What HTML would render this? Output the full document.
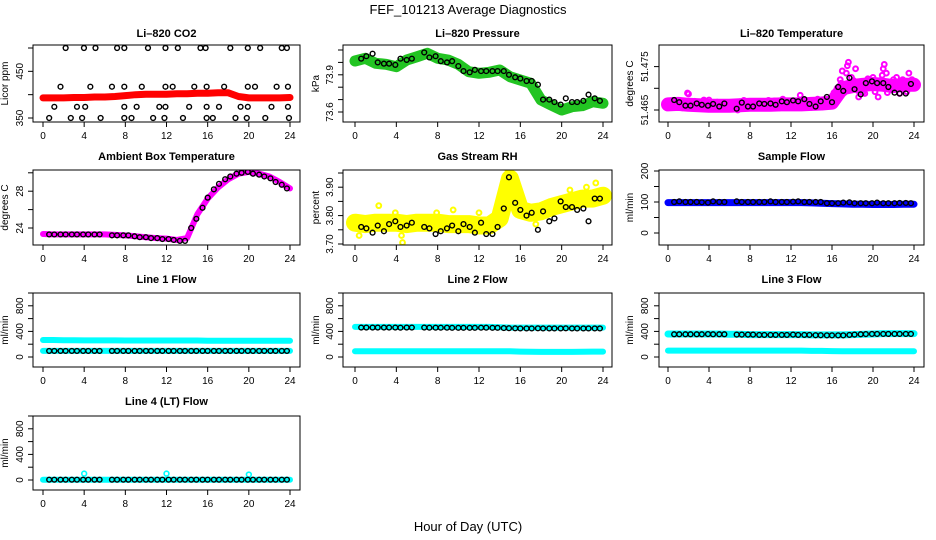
<!DOCTYPE html>
<html><head><meta charset="utf-8"><style>
html,body{margin:0;padding:0;background:#fff;}
svg{display:block;font-family:"Liberation Sans",Arial,sans-serif;}
</style></head><body>
<svg id="chart" width="936" height="540" viewBox="0 0 936 540">
<text x="468" y="14" text-anchor="middle" font-size="13">FEF_101213  Average Diagnostics</text>
<text x="468" y="531" text-anchor="middle" font-size="13">Hour of Day (UTC)</text>
</svg>
<script>
// ---- data ----
const xTicks = [0,4,8,12,16,20,24];
const blackTimes = [0.6,1.1,1.7,2.2,2.8,3.3,3.9,4.4,5.0,5.5,6.7,7.2,7.8,8.3,8.9,9.4,10.0,10.5,11.1,11.6,12.2,12.7,13.3,13.8,14.4,14.9,15.5,16.0,16.6,17.1,17.7,18.2,18.8,19.3,19.9,20.4,21.0,21.5,22.1,22.6,23.2,23.7];

const co2Band = [393,393,393,394,394,395,395,396,398,400,401,401,401,402,402,403,403,404,404,396,393,393,393,393,394];
const co2Times = [2.2,3.98,5.1,7.2,7.9,10.2,11.9,13.1,15.3,15.8,18.2,19.9,21.1,23.2,23.7,1.7,4.6,6.7,7.9,9.6,11.9,12.6,14.7,15.9,17.6,19.9,20.6,22.7,23.8,1.1,3.3,4.1,7.9,9.1,11.3,11.9,14.2,15.9,17.1,19.2,19.9,22.2,23.8,0.6,2.7,3.8,5.6,7.9,8.6,10.7,11.8,13.6,15.9,16.5,18.7,19.8,21.6,23.9];
const co2Values = [500,500,500,500,500,500,500,500,500,500,500,500,500,500,500,417,417,417,417,417,417,417,417,417,417,417,417,417,417,374,374,374,374,374,374,374,374,374,374,374,374,374,374,350,350,350,350,350,350,350,350,350,350,350,350,350,350,350];

const presBand = [74.011,74.033,73.993,73.985,73.965,74.019,74.046,74.073,74.033,74.019,73.985,73.925,73.912,73.920,73.939,73.885,73.858,73.832,73.697,73.656,73.616,73.643,73.651,73.683,73.670];
const presBlack = [74.03,74.05,74.07,74.00,73.99,73.99,73.98,74.03,74.02,74.03,74.08,74.04,74.05,74.01,74.00,74.01,73.97,73.93,73.92,73.94,73.93,73.93,73.93,73.93,73.93,73.90,73.88,73.87,73.85,73.85,73.82,73.70,73.70,73.68,73.66,73.71,73.68,73.68,73.69,73.74,73.71,73.69];

const tempBand = [51.4663,51.4664,51.4662,51.4661,51.4660,51.4660,51.4660,51.4661,51.4662,51.4662,51.4662,51.4663,51.4663,51.4663,51.4664,51.4665,51.4667,51.4700,51.4705,51.4708,51.4710,51.4708,51.4705,51.4708,51.4708];
const tempOutT = [0.5,1.9,2.0,3.5,4.0,6.8,7.4,9.8,11.2,12.9,14.6,16.5,16.8,17.0,17.4,17.6,17.9,18.3,18.6,19.0,19.5,20.0,20.5,21.0,21.1,21.3,21.8,22.3,22.9,23.5,
 0.8,1.4,2.6,3.1,4.8,5.3,6.1,7.0,8.1,8.6,9.2,10.4,10.9,11.6,12.3,13.4,14.0,15.0,15.4,16.2,16.9,17.2,17.8,18.1,18.5,18.9,19.2,19.7,20.2,20.7,21.4,21.7,22.0,22.6,23.0,23.3,23.8,17.5,19.4,20.9];
const tempOutV = [51.4672,51.4689,51.4687,51.4673,51.4673,51.4650,51.4672,51.4672,51.4675,51.4684,51.4675,51.4700,51.4720,51.4740,51.4735,51.4760,51.4725,51.4745,51.4680,51.4690,51.4722,51.4725,51.4680,51.4745,51.4755,51.4735,51.4700,51.4725,51.4720,51.4735,
 51.4668,51.4655,51.4670,51.4656,51.4668,51.4654,51.4667,51.4669,51.4656,51.4668,51.4657,51.4671,51.4655,51.4669,51.4657,51.4667,51.4656,51.4670,51.4658,51.4690,51.4712,51.4690,51.4700,51.4718,51.4695,51.4710,51.4688,51.4715,51.4692,51.4718,51.4690,51.4712,51.4720,51.4688,51.4712,51.4692,51.4720,51.4752,51.4705,51.4730];
const tempBlack = [51.4673,51.4668,51.4660,51.4660,51.4665,51.4662,51.4660,51.4664,51.4658,51.4665,51.4653,51.4667,51.4658,51.4658,51.4665,51.4664,51.4665,51.4662,51.4670,51.4668,51.4672,51.4670,51.4675,51.4664,51.4658,51.4670,51.4680,51.4668,51.4703,51.4694,51.4724,51.4698,51.4686,51.4712,51.4716,51.4712,51.4712,51.4703,51.4690,51.4688,51.4688,51.4710];

const ambBand = [23.35,23.3,23.3,23.3,23.3,23.3,23.3,23.25,23.2,23.1,23.0,22.9,22.85,22.7,22.9,25.5,27.2,28.4,29.3,29.9,30.1,29.9,29.6,29.0,28.3];
const ambBlack = [23.3,23.3,23.3,23.3,23.3,23.3,23.3,23.3,23.3,23.3,23.2,23.2,23.2,23.2,23.1,23.0,23.0,22.9,22.9,22.8,22.8,22.7,22.6,22.6,24.0,25.0,26.2,27.3,28.2,28.8,29.3,29.6,29.9,30.0,30.1,29.9,29.8,29.6,29.4,29.0,28.7,28.3];

const rhBand = [3.775,3.770,3.775,3.775,3.775,3.770,3.775,3.775,3.775,3.770,3.770,3.770,3.765,3.765,3.790,3.930,3.820,3.810,3.815,3.830,3.840,3.850,3.860,3.860,3.870];
const rhOutT = [0.4,2.3,3.9,4.5,4.6,7.9,9.5,12.0,14.6,14.8,15.0,15.2,17.5,20.8,22.4,23.3,23.6];
const rhOutV = [3.730,3.835,3.810,3.730,3.705,3.810,3.820,3.810,3.920,3.960,3.950,3.920,3.770,3.890,3.900,3.915,3.880];
const rhBlack = [3.760,3.755,3.740,3.765,3.745,3.770,3.780,3.760,3.765,3.775,3.760,3.755,3.735,3.745,3.755,3.765,3.745,3.770,3.760,3.740,3.775,3.735,3.735,3.760,3.825,3.935,3.845,3.820,3.800,3.810,3.750,3.815,3.780,3.790,3.850,3.830,3.830,3.820,3.825,3.780,3.860,3.860];

const sampBand = [98,98,98,98,98,98,98,98,98,98,98,98,98,98,97,96,95,94,93,93,92,92,92,93,93];
const sampBlack = [100,102,100,100,100,99,98,102,100,100,102,100,100,100,100,100,102,100,100,100,101,102,100,100,100,100,96,96,96,98,99,96,96,96,96,98,96,96,96,97,97,96];

const l1Upper = [265,265,262,262,260,260,260,260,258,258,258,258,258,258,258,258,255,255,255,255,255,255,255,255,255];
const l1Lower = [95,95,95,95,95,95,95,95,95,95,95,95,95,95,95,95,95,95,95,95,95,95,95,95,95];
const l1Black = [95,95,95,95,95,95,95,95,95,95,95,95,95,95,95,95,95,95,95,95,95,95,95,95,95,95,95,95,95,95,95,95,95,95,95,95,95,95,95,95,95,95];

const l2Upper = [470,470,470,470,470,470,470,470,470,470,470,470,470,470,465,460,460,460,460,460,460,460,460,460,460];
const l2Lower = [90,90,90,90,90,90,90,90,90,90,90,90,90,90,90,90,85,82,80,80,80,80,82,85,85];
const l2Black = [460,460,460,460,460,460,460,458,460,460,460,458,458,458,458,456,456,456,456,456,458,458,456,456,452,450,448,446,446,446,448,446,446,446,446,448,446,446,446,446,446,446];

const l3Upper = [360,360,360,360,360,360,355,355,350,350,350,350,350,350,345,345,345,345,350,355,360,365,365,365,365];
const l3Lower = [100,100,100,100,100,100,100,100,100,100,100,100,100,100,95,95,92,90,90,90,90,90,90,90,90];
const l3Black = [355,355,355,355,355,355,358,355,355,355,350,350,350,350,345,345,345,345,345,345,350,345,345,345,340,340,338,338,338,338,345,350,355,358,360,360,360,360,360,360,360,360];

const l4Band = [5,5,5,5,5,5,5,5,5,5,5,5,5,5,5,5,5,5,5,5,5,5,5,5,5];
const l4OutT = [4.0,12.0,20.0];
const l4OutV = [100,100,85];
const l4Black = [5,5,5,5,5,5,5,5,5,5,5,5,5,5,5,5,5,5,5,5,5,5,5,5,5,5,5,5,5,5,5,5,5,5,5,5,5,5,5,5,5,5];

// ---- rendering ----
const NS = 'http://www.w3.org/2000/svg';
const svg = document.getElementById('chart');
function mk(tag, attrs, parent){const e=document.createElementNS(NS,tag);for(const k in attrs)e.setAttribute(k,attrs[k]);(parent||svg).appendChild(e);return e;}

const cols = [{l:33,r:300,x0:43,x24:290,lab:23,tit:8},{l:343,r:612,x0:355,x24:603,lab:333,tit:319},{l:659,r:924,x0:668,x24:914,lab:648,tit:633}];
const rows = [{t:45,b:122,title:37},{t:170,b:245,title:160},{t:293,b:367,title:283},{t:416,b:490,title:405}];

function panel(name, title, col, row, ylab, yv0, yp0, yv1, yp1, ticks, labels){
  const C=cols[col], R=rows[row];
  const g = mk('g',{});
  
  
  const xs = h => C.x0 + (C.x24-C.x0)*h/24;
  const ys = v => yp0 + (v-yv0)*(yp1-yp0)/(yv1-yv0);
  const clipId = 'clip-'+name;
  const cp = mk('clipPath',{id:clipId},g);
  mk('rect',{x:C.l,y:R.t,width:C.r-C.l,height:R.b-R.t},cp);
  const plot = mk('g',{'clip-path':'url(#'+clipId+')'},g);
  const box = mk('rect',{x:C.l,y:R.t,width:C.r-C.l,height:R.b-R.t,fill:'none',stroke:'#000','stroke-width':1},g);
  
  
  const tt = mk('text',{x:(C.l+C.r)/2,y:R.title,'text-anchor':'middle','font-size':11,'font-weight':'bold'},g);
  tt.textContent = title;
  
  
  xTicks.forEach(h=>{
    const x=xs(h);
    mk('line',{x1:x,y1:R.b,x2:x,y2:R.b+5,stroke:'#000'},g);
    const t=mk('text',{x:x,y:R.b+17,'text-anchor':'middle','font-size':10},g);
    t.textContent=h;
    
    
  });
  ticks.forEach(v=>{
    const y=ys(v);
    mk('line',{x1:C.l-5,y1:y,x2:C.l,y2:y,stroke:'#000'},g);
  });
  labels.forEach(v=>{
    const y=ys(parseFloat(v));
    const t=mk('text',{x:C.lab,y:y,'text-anchor':'middle','font-size':10,transform:'rotate(-90 '+C.lab+' '+y+')'},g);
    t.textContent=v;
    
    
  });
  const my=(R.t+R.b)/2;
  const yt=mk('text',{x:C.tit,y:my,'text-anchor':'middle','font-size':10,transform:'rotate(-90 '+C.tit+' '+my+')'},g);
  yt.textContent=ylab;
  
  
  return {plot,xs,ys,name};
}
function band(p, vals, color, w, tag){
  const pts = vals.map((v,i)=>p.xs(i*24/(vals.length-1)).toFixed(1)+','+p.ys(v).toFixed(1)).join(' ');
  const e=mk('polyline',{points:pts,fill:'none',stroke:color,'stroke-width':w,'stroke-linejoin':'round','stroke-linecap':'round'},p.plot);
  
  
}
function dots(p, ts, vs, color, tag, sw){
  ts.forEach((t,i)=>{
    const c=mk('circle',{cx:p.xs(t),cy:p.ys(vs[i]),r:2.4,fill:'none',stroke:color,'stroke-width':sw||1.4},p.plot);
    
    
  });
}

let p;
p = panel('co2-panel','Li\u2013820 CO2',0,0,'Licor ppm',350,118,500,48,[350,400,450,500],['350','450']);
band(p,co2Band,'#ff0000',7,'red-band'); dots(p,co2Times,co2Values,'#000','avg-point');

p = panel('pressure-panel','Li\u2013820 Pressure',1,0,'kPa',73.6,112,74.1,50,[73.6,73.7,73.8,73.9,74.0,74.1],['73.6','73.9']);
band(p,presBand,'#22c422',11,'green-band'); dots(p,blackTimes,presBlack,'#000','avg-point');

p = panel('li820-temp-panel','Li\u2013820 Temperature',2,0,'degrees C',51.465,110,51.475,66.6,[51.465,51.470,51.475],['51.465','51.475']);
band(p,tempBand,'#ff00ff',14,'magenta-band'); dots(p,tempOutT,tempOutV,'#ff00ff','raw-point',2); dots(p,blackTimes,tempBlack,'#000','avg-point');

p = panel('ambient-temp-panel','Ambient Box Temperature',0,1,'degrees C',24,228,30,172.8,[24,26,28,30],['24','28']);
band(p,ambBand,'#ff00ff',6,'magenta-band'); dots(p,blackTimes,ambBlack,'#000','avg-point');

p = panel('rh-panel','Gas Stream RH',1,1,'percent',3.70,244,3.95,173,[3.70,3.75,3.80,3.85,3.90,3.95],['3.70','3.80','3.90']);
band(p,rhBand,'#ffff00',18,'yellow-band'); dots(p,rhOutT,rhOutV,'#ffff00','raw-point',2); dots(p,blackTimes,rhBlack,'#000','avg-point');

p = panel('sample-flow-panel','Sample Flow',2,1,'ml/min',0,233,200,171,[0,50,100,150,200],['0','100','200']);
band(p,sampBand,'#0000ff',7,'blue-band'); dots(p,blackTimes,sampBlack,'#000','avg-point');

p = panel('line1-flow-panel','Line 1 Flow',0,2,'ml/min',0,357,1000,293,[0,200,400,600,800,1000],['0','400','800']);
band(p,l1Upper,'#00ffff',6,'cyan-upper'); band(p,l1Lower,'#00ffff',6,'cyan-lower'); dots(p,blackTimes,l1Black,'#000','avg-point');

p = panel('line2-flow-panel','Line 2 Flow',1,2,'ml/min',0,357,1000,293,[0,200,400,600,800,1000],['0','400','800']);
band(p,l2Upper,'#00ffff',6,'cyan-upper'); band(p,l2Lower,'#00ffff',6,'cyan-lower'); dots(p,blackTimes,l2Black,'#000','avg-point');

p = panel('line3-flow-panel','Line 3 Flow',2,2,'ml/min',0,357,1000,293,[0,200,400,600,800,1000],['0','400','800']);
band(p,l3Upper,'#00ffff',7,'cyan-upper'); band(p,l3Lower,'#00ffff',6,'cyan-lower'); dots(p,blackTimes,l3Black,'#000','avg-point');

p = panel('line4-flow-panel','Line 4 (LT) Flow',0,3,'ml/min',0,480,1000,416,[0,200,400,600,800,1000],['0','400','800']);
band(p,l4Band,'#00ffff',6,'cyan-band'); dots(p,l4OutT,l4OutV,'#00ffff','raw-point',1.6); dots(p,blackTimes,l4Black,'#000','avg-point');
</script>
</body></html>
